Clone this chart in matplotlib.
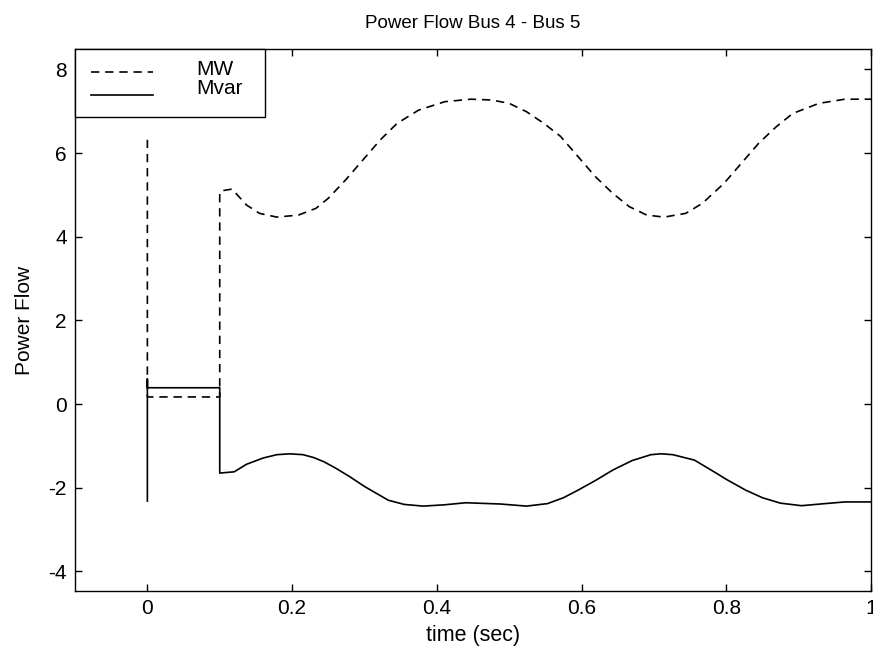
import matplotlib
matplotlib.use("Agg")
import matplotlib.pyplot as plt
from matplotlib.lines import Line2D
from matplotlib.patches import Rectangle

plt.rcParams['font.family'] = ['Liberation Sans', 'DejaVu Sans']
plt.rcParams['axes.unicode_minus'] = False

title = "Power Flow Bus 4 - Bus 5"
xlabel = "time (sec)"
ylabel = "Power Flow"
legend_labels = ["MW", "Mvar"]

xticks = [0, 0.2, 0.4, 0.6, 0.8, 1.0]
xticklabels = ["0", "0.2", "0.4", "0.6", "0.8", "1"]
yticks = [-4, -2, 0, 2, 4, 6, 8]
yticklabels = ["-4", "-2", "0", "2", "4", "6", "8"]

# MW (dashed)
t_mw = [0.0, 0.0, 0.1, 0.1, 0.103, 0.117, 0.137, 0.155, 0.179, 0.209, 0.233, 0.250,
        0.274, 0.298, 0.322, 0.345, 0.375, 0.411, 0.447, 0.476, 0.500, 0.524,
        0.548, 0.571, 0.595, 0.619, 0.643, 0.666, 0.690, 0.714, 0.744, 0.767,
        0.797, 0.821, 0.845, 0.869, 0.892, 0.928, 0.964, 1.0]
mw = [6.32, 0.17, 0.17, 5.06, 5.10, 5.14, 4.76, 4.56, 4.47, 4.52, 4.68, 4.92,
      5.36, 5.84, 6.32, 6.71, 7.03, 7.23, 7.29, 7.27, 7.19, 6.99,
      6.71, 6.40, 5.92, 5.44, 5.04, 4.72, 4.52, 4.47, 4.56, 4.80,
      5.28, 5.76, 6.24, 6.63, 6.95, 7.19, 7.29, 7.29]

# Mvar (solid)
t_mvar = [0.0, 0.0, 0.0, 0.1, 0.1, 0.12, 0.137, 0.16, 0.179, 0.197, 0.215, 0.23,
          0.244, 0.26, 0.280, 0.30, 0.333, 0.355, 0.381, 0.41, 0.440, 0.488,
          0.524, 0.553, 0.575, 0.595, 0.62, 0.643, 0.67, 0.696, 0.71, 0.726,
          0.756, 0.785, 0.80, 0.827, 0.85, 0.875, 0.904, 0.93, 0.964, 1.0]
mvar = [-2.32, 0.60, 0.39, 0.39, -1.65, -1.62, -1.44, -1.29, -1.21, -1.19, -1.21, -1.28,
        -1.38, -1.53, -1.74, -1.97, -2.30, -2.40, -2.44, -2.41, -2.36, -2.39,
        -2.44, -2.38, -2.24, -2.06, -1.82, -1.58, -1.35, -1.21, -1.19, -1.21,
        -1.34, -1.64, -1.80, -2.06, -2.24, -2.37, -2.43, -2.39, -2.34, -2.34]

fig = plt.figure(figsize=(8.73, 6.52), dpi=100)
ax = fig.add_axes([75/873, 61/652, 796/873, 542/652])

ax.plot(t_mw, mw, color='black', lw=1.2, dashes=[5, 3.5])
ax.plot(t_mvar, mvar, color='black', lw=1.2)

ax.set_xlim(-0.1, 1.0)
ax.set_ylim(-4.47, 8.49)
ax.set_xticks(xticks)
ax.set_xticklabels(xticklabels)
ax.set_yticks(yticks)
ax.set_yticklabels(yticklabels)
ax.tick_params(direction='in', top=True, right=True, length=5, width=1,
               labelsize=15, pad=6)
for s in ax.spines.values():
    s.set_linewidth(1.0)

ax.set_title(title, fontsize=13.5, pad=15)
ax.set_xlabel(xlabel, fontsize=15.5, labelpad=5)
ax.set_ylabel(ylabel, fontsize=15, labelpad=10)

# legend box
ax.add_patch(Rectangle((0, 0.875), 0.239, 0.125, transform=ax.transAxes,
                       facecolor='white', edgecolor='black', lw=1.0,
                       clip_on=False, zorder=5))
ax.add_line(Line2D([0.0197, 0.098], [0.958, 0.958], transform=ax.transAxes,
                   color='black', lw=1.2, dashes=[5, 3.5], zorder=6))
ax.add_line(Line2D([0.0197, 0.098], [0.915, 0.915], transform=ax.transAxes,
                   color='black', lw=1.2, zorder=6))
ax.text(0.152, 0.963, legend_labels[0], transform=ax.transAxes, fontsize=15,
        va='center', ha='left', zorder=7)
ax.text(0.152, 0.927, legend_labels[1], transform=ax.transAxes, fontsize=15,
        va='center', ha='left', zorder=7)

fig.savefig("out.png", dpi=100)
